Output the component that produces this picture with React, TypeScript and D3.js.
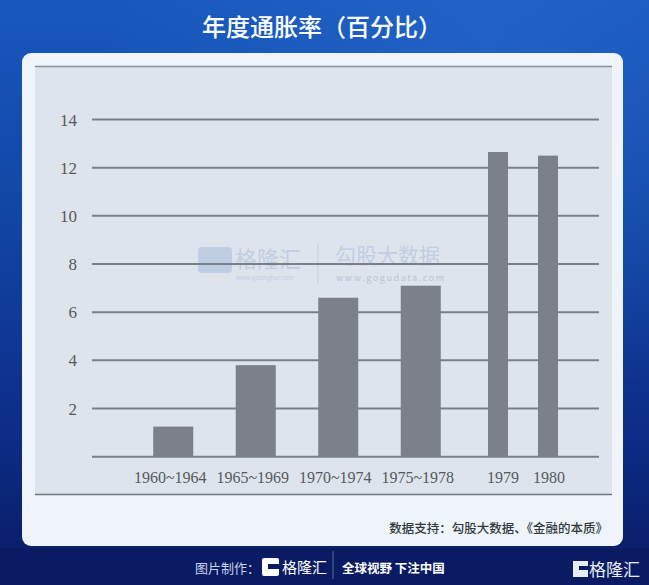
import React from "react";
import * as d3 from "d3";

const periodLabels = ["1960~1964", "1965~1969", "1970~1974", "1975~1978"];
const periodValues = [1.25, 3.8, 6.6, 7.1];
const yearLabels = ["1979", "1980"];
const yearValues = [12.65, 12.5];
const yTicks = [2, 4, 6, 8, 10, 12, 14];

const W = 649;
const H = 585;

export default function App() {
  const y = d3.scaleLinear().domain([0, 14]).range([456.7, 119.5]);
  const xPeriod = d3.scaleBand<string>().domain(periodLabels).range([132, 462]).padding(0);
  const xYear = d3.scaleBand<string>().domain(yearLabels).range([473, 573]).padding(0);
  const wideW = xPeriod.bandwidth() * 0.485;
  const narrowW = xYear.bandwidth() * 0.4;

  const bars = [
    ...periodLabels.map((l, i) => ({ label: l, v: periodValues[i], cx: (xPeriod(l) as number) + xPeriod.bandwidth() / 2, w: wideW, dx: -3 })),
    ...yearLabels.map((l, i) => ({ label: l, v: yearValues[i], cx: (xYear(l) as number) + xYear.bandwidth() / 2, w: narrowW, dx: i === 0 ? 5 : 1 })),
  ];

  const serif = "'Liberation Serif', 'DejaVu Serif', serif";
  const cjk = "'Noto Sans CJK SC', 'Noto Sans', sans-serif";

  return (
    <svg width={W} height={H} style={{ position: "fixed", left: 0, top: 0, display: "block" }}>
      <defs>
        <linearGradient id="bg" x1="0" y1="0" x2="0" y2="1">
          <stop offset="0" stopColor="#1858bd" />
          <stop offset="0.35" stopColor="#1247a6" />
          <stop offset="0.75" stopColor="#0c2c86" />
          <stop offset="1" stopColor="#0a1a62" />
        </linearGradient>
        <radialGradient id="glow" cx="0.75" cy="0.1" r="0.6">
          <stop offset="0" stopColor="#2a6fd0" stopOpacity="0.5" />
          <stop offset="1" stopColor="#2a6fd0" stopOpacity="0" />
        </radialGradient>
      </defs>
      <rect x={0} y={0} width={W} height={H} fill="url(#bg)" />
      <rect x={0} y={0} width={W} height={H} fill="url(#glow)" />
      <rect x={0} y={548} width={W} height={H - 548} fill="#0b1b63" />

      <text x={322} y={36} textAnchor="middle" fill="#ffffff" fontSize={24} fontWeight={500} fontFamily={cjk}>
        年度通胀率（百分比）
      </text>

      {/* white panel */}
      <rect x={22} y={53} width={601} height={493} rx={9} fill="#eef4fa" />
      {/* grey chart panel */}
      <rect x={35} y={66} width={577} height={429} fill="#dee4eb" />
      <line x1={35} x2={612} y1={66.5} y2={66.5} stroke="#8a9099" strokeWidth={1.5} />
      <line x1={35} x2={612} y1={494.5} y2={494.5} stroke="#6f757d" strokeWidth={1.5} />

      {/* watermark */}
      <g opacity={0.55}>
        <rect x={198} y={247} width={34} height={26} rx={4} fill="#a9bde0" />
        <text x={235} y={267} fill="#a9bde0" fontSize={22} fontFamily={cjk}>格隆汇</text>
        <text x={236} y={280} fill="#a9bde0" fontSize={6} fontFamily={cjk}>www.gelonghui.com</text>
        <line x1={318} x2={318} y1={243} y2={283} stroke="#a9bde0" strokeWidth={1} />
        <text x={335} y={263} fill="#a9bde0" fontSize={21} fontFamily={cjk}>勾股大数据</text>
        <text x={336} y={281} fill="#9aaac4" fontSize={9} fontFamily={cjk} letterSpacing={1.6}>www.gogudata.com</text>
      </g>

      {/* gridlines */}
      {[0, ...yTicks].map((t) => (
        <line key={t} x1={92} x2={599} y1={y(t)} y2={y(t)} stroke="#7b8088" strokeWidth={2} />
      ))}
      {yTicks.map((t) => (
        <text key={t} x={77} y={y(t) + 6} textAnchor="end" fill="#555a60" fontSize={17} fontFamily={serif}>
          {t}
        </text>
      ))}

      {/* bars */}
      {bars.map((b) => (
        <g key={b.label}>
          <rect x={b.cx - b.w / 2} y={y(b.v)} width={b.w} height={y(0) - y(b.v)} fill="#7c8088" />
          <text x={b.cx + b.dx} y={483} textAnchor="middle" fill="#555a60" fontSize={16} fontFamily={serif}>
            {b.label}
          </text>
        </g>
      ))}

      <text x={608} y={533} textAnchor="end" fill="#333940" fontSize={12.5} fontWeight={500} fontFamily={cjk}>
        数据支持：勾股大数据、《金融的本质》
      </text>

      {/* footer */}
      <text x={195} y={573} fill="#c9d2ea" fontSize={13} fontFamily={cjk}>图片制作：</text>
      <rect x={262} y={558} width={17} height={18} rx={2} fill="#ffffff" />
      <rect x={268} y={564} width={11} height={5} fill="#0b1b63" />
      <text x={282} y={573} fill="#ffffff" fontSize={15} fontFamily={cjk}>格隆汇</text>
      <line x1={333} x2={333} y1={551} y2={579} stroke="#5b6aa0" strokeWidth={1} />
      <text x={342} y={573} fill="#ffffff" fontSize={12.5} fontWeight={700} fontFamily={cjk}>全球视野 下注中国</text>
      <rect x={573} y={561} width={15} height={16} fill="#e8ecf5" />
      <rect x={579} y={566} width={9} height={4} fill="#0b1b63" />
      <text x={589} y={576} fill="#e8ecf5" fontSize={17} fontFamily={cjk}>格隆汇</text>
    </svg>
  );
}
